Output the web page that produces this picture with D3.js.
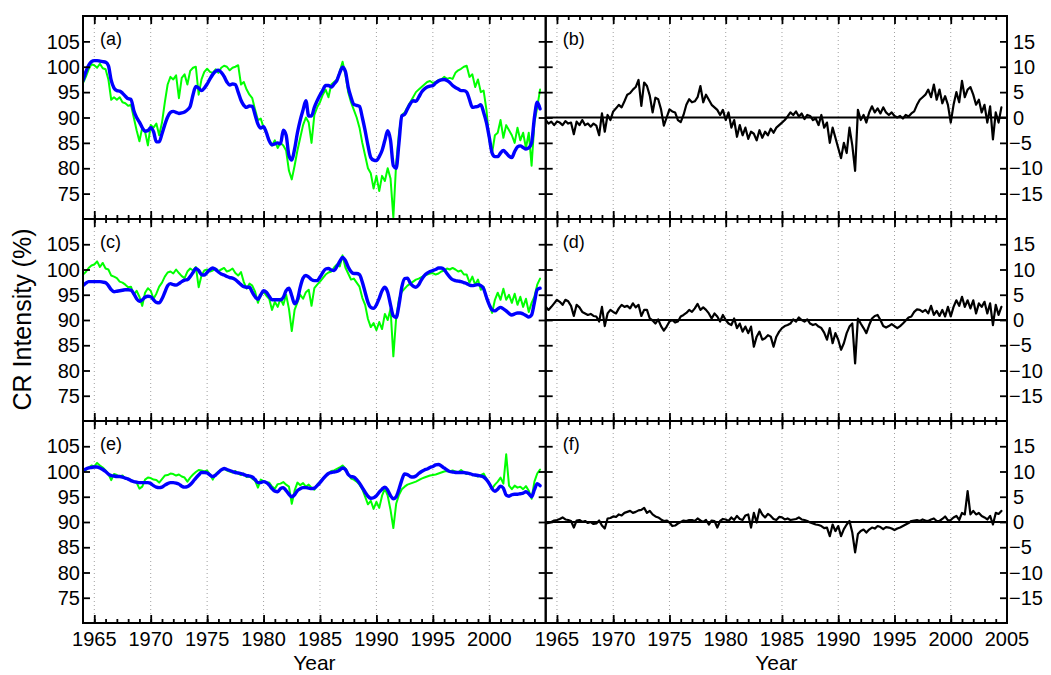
<!DOCTYPE html>
<html><head><meta charset="utf-8">
<script src="https://cdn.jsdelivr.net/npm/d3@7"></script>
<style>
body{margin:0;background:#fff}
svg{display:block}
text{font-family:"Liberation Sans",Arial,Helvetica,sans-serif;fill:#000}
</style>
</head><body>
<svg id="chart" width="1051" height="675"></svg>
<script>
// quarterly samples starting 1964.0
const startYear = 1964, stepYear = 0.25;

const greenA = [
96.8,98.0,99.5,100.5, 100.3,99.8,100.6,99.7,
99.5,97.5,93.5,94.0, 93.5,94.0,93.0,92.8,
92.3,92.5,90.0,87.5, 85.3,88.0,87.2,84.5,
88.5,88.0,88.8,86.5, 89.0,93.0,96.5,98.0,
97.5,98.3,93.8,97.8, 98.5,96.5,99.2,99.8,
100.0,94.5,97.5,99.0, 99.6,99.0,98.8,99.5,
98.8,99.8,100.2,100.0, 99.3,99.8,100.0,100.3,
96.5,97.0,95.5,94.5, 93.8,91.5,89.5,89.8,
88.0,87.0,85.5,84.5, 85.5,84.0,85.0,84.5,
83.5,79.5,77.8,80.5, 83.5,86.0,88.5,90.0,
89.0,85.0,90.5,92.0, 93.0,94.5,95.5,94.0,
96.5,97.0,97.5,99.0, 101.0,98.5,95.0,93.0,
91.5,90.0,88.0,85.0, 82.5,80.0,79.0,76.0,
78.5,75.5,78.5,77.5, 80.0,78.0,70.3,81.0,
87.0,90.5,91.0,92.0, 93.0,94.0,95.0,95.5,
96.0,96.5,97.0,97.2, 96.8,97.0,97.4,97.5,
98.0,97.6,97.8,97.6, 98.8,99.3,99.6,100.0,
100.2,98.0,98.5,96.0, 97.5,95.0,95.3,91.5,
85.5,83.0,86.5,87.0, 89.5,86.0,88.5,87.5,
86.5,85.0,88.0,85.5, 87.0,84.0,87.0,80.5,
89.0,92.0,95.5];

const blueA = [
97.3,99.0,100.3,101.0, 101.2,101.2,101.1,101.0,
100.9,100.2,97.3,95.8, 95.3,95.2,94.8,94.2,
93.7,93.6,91.4,90.0, 89.1,88.0,87.3,87.4,
88.0,87.2,85.2,85.2, 86.8,88.6,90.1,91.0,
91.2,91.0,90.8,90.9, 91.1,91.5,92.2,94.5,
96.1,95.8,95.3,95.8, 96.6,97.6,98.5,99.1,
99.3,98.9,98.1,97.0, 96.4,96.6,96.5,95.0,
93.4,92.4,92.0,92.3, 92.2,90.5,88.7,87.9,
88.2,87.0,85.4,84.6, 84.8,85.0,84.8,87.5,
86.5,82.5,81.6,83.8, 87.0,89.5,91.5,93.3,
90.3,90.3,92.0,93.3, 94.4,95.4,96.3,96.3,
96.0,96.6,97.3,98.8, 99.9,99.1,96.0,94.0,
92.6,92.4,92.2,90.0, 87.4,84.5,82.1,81.6,
81.5,82.3,83.5,85.5, 87.4,85.5,80.5,80.0,
85.0,90.3,90.6,91.7, 92.7,93.3,93.2,94.0,
95.0,95.6,96.0,96.2, 96.3,96.8,97.2,97.4,
97.5,97.3,96.9,96.3, 95.9,95.6,95.3,95.3,
95.0,93.5,92.0,92.1, 92.2,92.5,91.0,89.0,
86.1,83.0,82.3,82.3, 83.0,83.5,83.0,82.4,
82.1,83.3,84.2,84.4, 84.1,83.8,84.0,85.0,
90.0,93.0,91.7];

const diffB = [
-0.5,-1.2,-0.8,-1.5, -0.8,-1.0,-1.5,-0.7,
-1.2,-1.0,-3.3,-0.8, -1.5,-0.5,-1.5,-1.2,
-1.8,-1.2,-1.6,-3.5, 0.8,-2.8,0.5,-0.5,
1.2,1.8,2.5,2.0, 3.2,4.5,4.8,5.5,
6.0,7.4,2.3,6.9, 6.2,4.3,1.0,3.9,
3.6,1.6,-1.6,0.0, 1.6,1.2,1.0,-0.5,
-0.9,0.5,2.5,3.6, 3.0,3.2,4.0,6.2,
3.0,4.5,3.5,2.5, 2.0,1.5,0.5,1.5,
-0.5,1.0,-2.0,-0.5, -3.8,-1.5,-3.5,-2.0,
-4.2,-2.8,-3.2,-4.5, -2.5,-4.0,-2.8,-3.5,
-2.2,-3.0,-2.0,-1.5, -1.0,-0.5,0.2,1.0,
0.5,1.2,0.2,0.8, -0.3,0.5,0.3,-0.5,
-0.2,-1.5,0.5,-2.0, -1.0,-5.0,-2.0,-4.0,
-6.0,-8.0,-5.0,-7.0, -2.0,-5.5,-10.5,1.5,
-0.5,0.5,-1.0,1.0, 2.2,1.0,1.8,0.8,
2.0,1.0,0.5,1.0, 0.3,0.0,0.3,-0.2,
0.5,0.2,0.8,1.2, 2.5,3.5,4.0,4.5,
5.5,4.0,6.5,3.5, 5.5,2.8,4.2,2.5,
-1.0,2.5,5.0,3.0, 7.2,4.0,5.5,6.0,
4.5,2.5,3.5,1.0, 2.5,-1.0,2.2,-4.3,
1.0,-1.0,2.0];

const greenC = [
99.0,99.5,100.3,100.8, 101.0,101.6,100.5,101.3,
100.2,100.0,98.8,98.6, 98.3,97.6,97.4,97.0,
96.5,96.6,95.0,95.8, 94.6,92.8,95.4,96.3,
95.8,94.2,95.2,96.6, 97.4,98.6,99.4,99.6,
99.2,100.0,99.3,98.7, 98.3,99.6,100.2,99.8,
100.5,96.5,98.8,99.8, 100.0,99.6,99.8,100.2,
99.7,100.0,100.3,99.6, 99.8,100.2,99.3,98.8,
99.5,97.5,96.2,97.2, 96.8,95.6,93.4,95.0,
95.6,94.8,94.2,92.0, 93.6,92.6,94.2,93.0,
95.0,92.2,87.8,92.0, 93.5,95.0,94.2,95.5,
96.0,92.8,96.3,97.0, 97.6,98.3,99.0,99.4,
99.6,100.4,101.0,100.6, 102.8,100.4,99.2,98.0,
98.2,97.4,96.6,94.4, 93.0,90.2,88.6,89.4,
88.0,89.6,88.2,91.2, 90.0,92.2,82.8,90.4,
94.2,95.6,96.2,96.8, 97.2,97.6,98.0,98.2,
98.5,98.8,99.0,99.2, 99.3,99.0,99.2,99.6,
99.8,100.2,100.0,100.3, 100.0,99.6,99.8,99.0,
99.0,97.4,98.6,97.0, 98.0,96.0,96.6,94.2,
93.0,91.4,94.0,95.4, 94.0,96.2,94.0,95.0,
93.4,95.2,93.0,94.6, 92.6,94.2,91.6,93.4,
94.6,97.0,98.2];

const blueC = [
96.8,97.3,97.6,97.6, 97.6,97.6,97.6,97.5,
97.4,96.8,96.0,95.6, 95.7,95.8,95.9,96.0,
96.0,95.9,95.2,94.2, 93.7,94.0,94.5,94.7,
94.6,94.0,93.5,93.4, 94.2,95.5,96.8,97.2,
97.0,96.9,97.2,97.6, 97.9,98.0,98.6,99.4,
100.2,99.8,99.0,98.9, 99.4,100.0,100.3,100.0,
99.5,99.1,98.9,98.6, 98.4,98.3,98.0,97.5,
97.0,96.6,96.5,96.5, 95.5,94.6,94.1,95.0,
95.8,95.5,94.7,94.0, 94.0,94.0,94.0,94.5,
95.8,96.3,94.8,93.2, 94.0,96.5,98.3,98.8,
98.5,98.0,97.8,97.8, 98.5,99.4,100.1,100.2,
99.9,99.8,100.6,101.6, 102.4,101.8,100.5,99.6,
99.2,99.2,99.0,97.5, 95.5,93.5,92.5,92.3,
93.0,94.3,95.8,96.5, 95.5,93.0,90.8,90.5,
93.0,96.5,98.2,98.3, 97.3,96.7,96.5,97.0,
98.0,98.8,99.3,99.6, 99.8,100.0,100.3,100.3,
100.0,99.2,98.5,98.0, 97.8,97.7,97.6,97.4,
97.2,96.9,96.8,96.9, 97.0,96.8,96.2,94.5,
93.0,92.0,91.8,92.2, 92.5,92.2,91.8,91.3,
91.0,91.2,91.4,91.4, 91.2,90.9,90.6,91.0,
93.5,96.0,96.3];

const diffD = [
2.6,2.0,2.6,3.3, 4.0,3.6,3.0,4.0,
3.7,2.8,0.8,3.0, 2.5,1.6,1.3,1.0,
1.2,0.8,0.7,-0.3, 2.6,-1.2,1.3,2.0,
1.6,1.3,2.3,3.0, 2.6,2.8,2.3,3.3,
2.5,3.0,0.8,2.0, 2.0,0.3,-0.1,-0.7,
0.1,-1.2,-2.1,-1.3, -0.3,0.0,-0.5,-0.3,
0.7,1.0,1.4,2.0, 1.6,2.3,3.2,2.0,
2.5,2.0,1.3,0.3, 1.3,0.7,-0.3,1.0,
0.0,-0.7,-1.0,0.3, -1.6,-0.7,-2.3,-1.3,
-2.6,-1.3,-5.3,-3.3, -2.3,-3.9,-3.6,-3.0,
-3.3,-5.3,-3.3,-2.3, -1.6,-1.2,-1.0,-0.7,
0.1,-0.3,0.5,0.0, -0.3,0.1,-0.7,-1.0,
-0.8,-1.3,-1.6,-2.5, -3.9,-1.6,-4.6,-2.6,
-3.9,-5.9,-4.6,-2.6, -1.3,-0.7,-8.6,0.3,
-0.7,-1.6,-2.6,-1.0, 0.3,0.8,1.0,0.0,
-1.2,-1.5,-1.2,-0.8, -1.2,-1.6,-1.2,-0.7,
-0.1,0.5,0.7,1.6, 2.1,2.0,1.6,2.0,
1.3,2.8,1.0,1.8, 0.8,2.0,0.7,2.6,
0.7,2.6,3.9,2.8, 4.6,2.6,3.9,2.3,
3.9,1.3,3.3,2.6, 3.6,1.3,3.3,-1.0,
3.0,1.0,2.6];

const greenE = [
100.0,100.3,100.8,101.2, 101.0,101.7,101.2,100.8,
100.2,99.5,98.3,99.5, 99.3,99.0,99.2,98.6,
98.6,98.3,98.0,97.8, 96.6,97.0,98.4,98.8,
98.7,98.4,98.3,97.8, 98.5,99.2,99.3,99.6,
99.5,99.2,99.4,99.0, 98.8,98.0,98.8,99.4,
99.9,100.3,100.2,100.0, 100.2,99.4,98.4,99.5,
100.0,100.3,100.5,100.2, 100.0,99.8,100.1,99.6,
99.3,99.6,98.9,99.0, 98.6,98.2,96.8,98.4,
98.1,97.8,97.8,97.0, 96.6,97.5,97.6,97.9,
97.4,97.0,93.6,96.2, 97.8,97.3,97.7,97.0,
97.4,96.8,96.4,97.4, 98.0,98.6,99.1,99.6,
100.1,100.2,100.5,100.8, 101.2,100.6,99.6,98.6,
98.4,98.0,97.4,96.5, 95.0,93.5,94.2,92.6,
94.0,92.8,95.2,96.6, 95.2,92.4,88.8,93.6,
95.4,96.5,97.0,97.4, 97.6,97.8,98.0,98.3,
98.6,98.8,99.0,99.2, 99.3,99.4,99.6,99.8,
100.0,100.1,100.0,100.2, 100.0,99.8,100.3,99.8,
99.5,99.7,99.4,99.2, 99.0,99.3,99.6,98.5,
97.6,96.6,97.4,98.0, 98.8,97.6,103.4,97.2,
96.5,97.2,96.8,97.0, 96.5,97.1,96.2,94.6,
98.0,99.6,100.4];

const blueE = [
100.2,100.5,100.7,100.8, 100.9,100.9,100.7,100.4,
100.0,99.5,99.2,99.1, 99.0,99.0,98.9,98.7,
98.5,98.2,98.0,97.9, 97.8,97.8,97.8,97.8,
97.6,97.2,96.9,96.8, 96.9,97.3,97.6,97.8,
97.8,97.7,97.5,97.1, 96.9,97.0,97.4,98.0,
98.7,99.3,99.8,99.8, 99.7,99.3,99.0,99.3,
99.8,100.3,100.6,100.4, 100.2,100.0,99.8,99.7,
99.6,99.4,99.2,99.1, 98.9,98.4,97.8,97.8,
98.0,97.8,97.3,96.6, 96.1,96.0,96.6,96.8,
96.2,95.5,95.0,95.4, 96.2,96.6,96.8,96.8,
96.7,96.6,96.7,97.2, 97.8,98.5,99.1,99.6,
99.8,99.9,100.0,100.3, 100.7,100.4,99.4,99.0,
98.9,98.4,97.7,96.8, 95.9,95.1,94.7,94.8,
95.2,95.9,96.5,96.9, 96.3,95.2,94.6,95.0,
96.5,98.3,99.5,99.4, 99.0,98.9,99.1,99.6,
100.0,100.3,100.5,100.8, 101.0,101.3,101.4,101.1,
100.7,100.3,100.0,99.9, 99.8,99.8,99.8,99.8,
99.7,99.6,99.4,99.3, 99.2,99.1,98.9,98.4,
97.6,96.6,96.1,96.5, 97.1,96.7,95.3,95.1,
95.4,95.5,95.5,95.6, 95.7,96.0,95.6,95.0,
96.4,97.6,97.2];

const diffF = [
-0.3,-0.2,0.0,0.3, 0.4,0.6,0.9,0.5,
0.4,0.2,-1.1,0.3, 0.4,0.0,0.2,-0.2,
0.0,-0.4,-0.3,0.3, -0.7,-1.3,0.7,0.8,
1.1,1.0,1.5,1.3, 1.8,2.0,2.2,1.8,
2.0,2.3,2.4,2.8, 1.8,2.2,1.5,1.1,
0.9,0.5,0.2,0.3, -0.1,-0.8,-0.7,-0.3,
0.0,0.3,0.2,0.4, 0.4,0.2,0.7,0.3,
0.0,0.4,-0.5,0.3, 0.2,-1.1,0.2,0.6,
0.5,0.2,0.9,0.4, 1.2,0.6,0.4,1.3,
1.5,-1.1,1.8,-0.1, 2.5,1.5,0.9,1.6,
1.2,0.6,0.4,1.0, 0.9,0.5,0.7,0.4,
0.5,0.6,0.9,0.5, 0.4,0.2,-0.1,-0.3,
-0.5,-0.6,-0.8,-1.2, -1.1,-2.8,-0.5,-1.8,
-0.8,-2.8,-1.4,-0.5, 0.2,-2.1,-6.0,-2.4,
-1.8,-1.5,-2.1,-1.5, -1.1,-1.3,-0.8,-1.0,
-1.4,-1.0,-1.1,-1.3, -1.6,-1.3,-1.1,-0.8,
-0.5,-0.2,0.2,0.3, 0.4,0.2,0.5,0.3,
0.2,0.5,0.7,0.2, 0.2,0.6,1.1,0.3,
0.4,0.9,1.2,0.4, 1.8,1.5,6.1,1.5,
2.2,1.5,1.8,1.2, 0.9,0.5,1.2,-0.5,
1.8,1.6,2.2];

const xTicksLeft  = [1965,1970,1975,1980,1985,1990,1995,2000];
const xTicksRight = [1965,1970,1975,1980,1985,1990,1995,2000,2005];
const xMinor = [1965,1966,1967,1968,1969,1970,1971,1972,1973,1974,1975,1976,1977,1978,1979,1980,1981,1982,1983,1984,1985,1986,1987,1988,1989,1990,1991,1992,1993,1994,1995,1996,1997,1998,1999,2000,2001,2002,2003,2004];
const xGrid = [1965,1970,1975,1980,1985,1990,1995,2000];
const yTicksLeft  = [75,80,85,90,95,100,105];
const yTicksRight = [-15,-10,-5,0,5,10,15];
const panelLabels = ["(a)","(b)","(c)","(d)","(e)","(f)"];
const xTitle = "Year";
const yTitle = "CR Intensity (%)";

// ---------- layout ----------
const svg = d3.select("#chart");
const colX = [[83,545.7],[545.7,1007]];
const rowY = [[16,219],[219,421],[421,623]];
const GREEN = "#00ff00", BLUE = "#0000ff";

const panels = [
  {r:0,c:0,series:[{v:greenA,col:GREEN,w:2},{v:blueA,col:BLUE,w:3.4,smooth:true}]},
  {r:0,c:1,series:[{v:diffB,col:"#000",w:2.2}]},
  {r:1,c:0,series:[{v:greenC,col:GREEN,w:2},{v:blueC,col:BLUE,w:3.4,smooth:true}]},
  {r:1,c:1,series:[{v:diffD,col:"#000",w:2.2}]},
  {r:2,c:0,series:[{v:greenE,col:GREEN,w:2},{v:blueE,col:BLUE,w:3.4,smooth:true}]},
  {r:2,c:1,series:[{v:diffF,col:"#000",w:2.2}]}
];

const defs = svg.append("defs");
const tickFont = 20;

panels.forEach((p,i) => {
  const [x0,x1] = colX[p.c], [y0,y1] = rowY[p.r];
  const x = d3.scaleLinear().domain([1964,2005]).range([x0,x1]);
  const y = p.c === 0 ? d3.scaleLinear().domain([70,110]).range([y1,y0])
                      : d3.scaleLinear().domain([-20,20]).range([y1,y0]);
  const g = svg.append("g");

  // grid
  g.selectAll(".grid").data(xGrid).join("line")
    .attr("x1",d=>x(d)).attr("x2",d=>x(d)).attr("y1",y0).attr("y2",y1)
    .attr("stroke","#a0a0a0").attr("stroke-width",1).attr("stroke-dasharray","1,3");

  // clip
  defs.append("clipPath").attr("id","clip"+i).append("rect")
    .attr("x",x0).attr("y",y0).attr("width",x1-x0).attr("height",y1-y0);
  const dg = g.append("g").attr("clip-path",`url(#clip${i})`);

  if (p.c === 1) {
    dg.append("line").attr("x1",x0).attr("x2",x1).attr("y1",y(0)).attr("y2",y(0))
      .attr("stroke","#000").attr("stroke-width",1.8);
  }
  p.series.forEach(s => {
    const line = d3.line()
      .x((d,k)=>x(startYear + k*stepYear))
      .y(d=>y(d))
      .curve(s.smooth ? d3.curveMonotoneX : d3.curveLinear);
    dg.append("path").datum(s.v).attr("d",line)
      .attr("fill","none").attr("stroke",s.col).attr("stroke-width",s.w)
      .attr("stroke-linejoin","round").attr("stroke-linecap","round");
  });

  // frame
  g.append("rect").attr("x",x0).attr("y",y0).attr("width",x1-x0).attr("height",y1-y0)
    .attr("fill","none").attr("stroke","#000").attr("stroke-width",2);

  // ticks via axes (inward)
  const majors = p.c === 0 ? xTicksLeft : xTicksRight;
  const yt = p.c === 0 ? yTicksLeft : yTicksRight;
  const styleAxis = sel => { sel.select(".domain").remove(); sel.selectAll("line").attr("stroke","#000").attr("stroke-width",1.8); sel.selectAll("text").remove(); };
  g.append("g").attr("transform",`translate(0,${y1})`).call(d3.axisBottom(x).tickValues(majors.filter(t=>t<2005)).tickSize(-8)).call(styleAxis);
  g.append("g").attr("transform",`translate(0,${y0})`).call(d3.axisTop(x).tickValues(majors.filter(t=>t<2005)).tickSize(-8)).call(styleAxis);
  g.append("g").attr("transform",`translate(0,${y1})`).call(d3.axisBottom(x).tickValues(xMinor).tickSize(-4)).call(styleAxis);
  g.append("g").attr("transform",`translate(0,${y0})`).call(d3.axisTop(x).tickValues(xMinor).tickSize(-4)).call(styleAxis);
  g.append("g").attr("transform",`translate(${x0},0)`).call(d3.axisLeft(y).tickValues(yt).tickSize(-7)).call(styleAxis);
  g.append("g").attr("transform",`translate(${x1},0)`).call(d3.axisRight(y).tickValues(yt).tickSize(-7)).call(styleAxis);

  // y tick labels
  if (p.c === 0) {
    g.selectAll(".yl").data(yt).join("text")
      .attr("x",x0-3).attr("y",d=>y(d)).attr("dy","0.36em")
      .attr("text-anchor","end").attr("font-size",tickFont).text(d=>d);
  } else {
    g.selectAll(".yl").data(yt).join("text")
      .attr("x",d=> d<0 ? x1+2 : x1+6).attr("y",d=>y(d)).attr("dy","0.36em")
      .attr("text-anchor","start").attr("font-size",tickFont)
      .text(d=> d<0 ? "\u2212"+Math.abs(d) : d);
  }

  // x tick labels on bottom row
  if (p.r === 2) {
    g.selectAll(".xl").data(majors).join("text")
      .attr("x",d=>x(d)).attr("y",646).attr("text-anchor","middle")
      .attr("font-size",tickFont).text(d=>d);
    g.append("text").attr("x",(x0+x1)/2).attr("y",670).attr("text-anchor","middle")
      .attr("font-size",21).text(xTitle);
  }

  // panel label
  g.append("text").attr("x",x0+17).attr("y",y0+28.5).attr("font-size",18).text(panelLabels[i]);
});

svg.append("text").attr("transform","translate(31,319.5) rotate(-90)")
  .attr("text-anchor","middle").attr("font-size",25).text(yTitle);
</script>
</body></html>
